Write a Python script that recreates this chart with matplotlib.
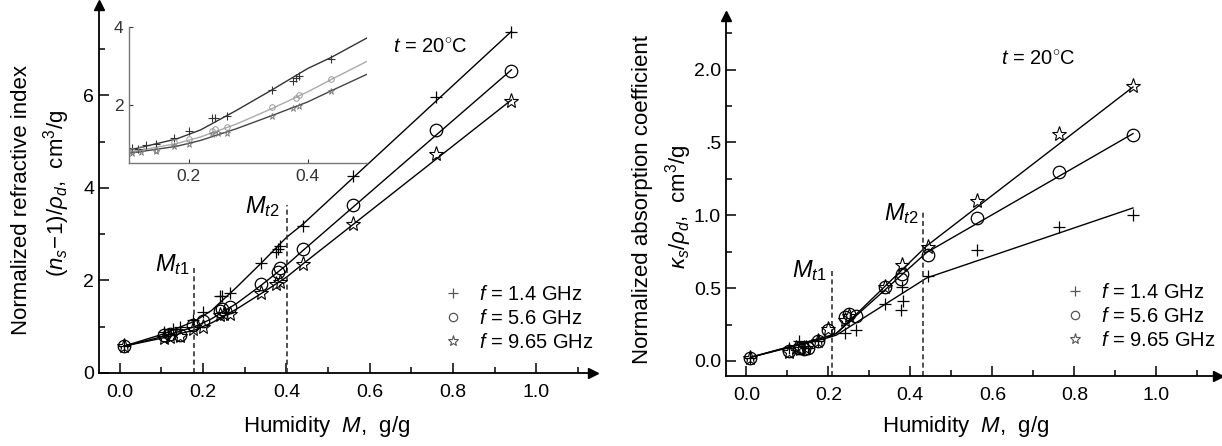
import matplotlib
matplotlib.use('Agg')
import matplotlib.pyplot as plt
from matplotlib.lines import Line2D
from matplotlib.ticker import FixedLocator

plt.rcParams['font.family'] = ['Liberation Sans', 'DejaVu Sans']
plt.rcParams['mathtext.fontset'] = 'custom'
plt.rcParams['mathtext.rm'] = 'Liberation Sans'
plt.rcParams['mathtext.it'] = 'Liberation Sans:italic'

# ---- left panel: normalized refractive index ----
M_n_plus = [0.01, 0.105, 0.115, 0.128, 0.145, 0.175, 0.20, 0.24, 0.245, 0.265, 0.34, 0.375, 0.38, 0.385, 0.44, 0.56, 0.76, 0.94]
n_plus = [0.58, 0.89, 0.85, 0.96, 1.00, 1.15, 1.32, 1.66, 1.66, 1.72, 2.37, 2.62, 2.68, 2.75, 3.18, 4.25, 5.97, 7.36]
M_n_circ = [0.01, 0.105, 0.12, 0.145, 0.175, 0.20, 0.24, 0.245, 0.265, 0.34, 0.38, 0.385, 0.44, 0.56, 0.76, 0.94]
n_circ = [0.58, 0.82, 0.85, 0.83, 1.03, 1.12, 1.33, 1.38, 1.42, 1.93, 2.18, 2.26, 2.67, 3.63, 5.25, 6.53]
M_n_star = [0.01, 0.105, 0.12, 0.145, 0.175, 0.20, 0.24, 0.25, 0.265, 0.34, 0.375, 0.385, 0.44, 0.56, 0.76, 0.94]
n_star = [0.58, 0.76, 0.78, 0.80, 0.95, 1.00, 1.25, 1.28, 1.28, 1.72, 1.92, 1.96, 2.36, 3.22, 4.74, 5.87]

# fitted curves (nodes)
fit_M_n = [0.01, 0.10, 0.18, 0.22, 0.28, 0.34, 0.40, 0.44, 0.94]
fit_n_plus = [0.58, 0.83, 1.12, 1.35, 1.85, 2.38, 2.93, 3.22, 7.38]
fit_n_circ = [0.58, 0.78, 1.00, 1.17, 1.50, 1.90, 2.33, 2.65, 6.55]
fit_n_star = [0.58, 0.75, 0.93, 1.08, 1.38, 1.72, 2.07, 2.36, 5.90]

# ---- right panel: normalized absorption coefficient ----
M_k_plus = [0.01, 0.105, 0.128, 0.14, 0.15, 0.175, 0.24, 0.267, 0.337, 0.376, 0.38, 0.382, 0.443, 0.562, 0.762, 0.943]
k_plus = [0.02, 0.09, 0.14, 0.10, 0.09, 0.14, 0.19, 0.21, 0.39, 0.35, 0.51, 0.41, 0.58, 0.76, 0.92, 1.00]
M_k_circ = [0.01, 0.105, 0.128, 0.14, 0.15, 0.175, 0.20, 0.24, 0.25, 0.267, 0.337, 0.376, 0.38, 0.443, 0.562, 0.762, 0.943]
k_circ = [0.02, 0.07, 0.09, 0.08, 0.09, 0.14, 0.21, 0.30, 0.32, 0.31, 0.51, 0.56, 0.60, 0.73, 0.98, 1.30, 1.55]
M_k_star = [0.01, 0.105, 0.12, 0.13, 0.145, 0.175, 0.20, 0.24, 0.25, 0.337, 0.38, 0.443, 0.562, 0.762, 0.943]
k_star = [0.02, 0.06, 0.09, 0.08, 0.09, 0.14, 0.22, 0.28, 0.31, 0.51, 0.66, 0.785, 1.10, 1.56, 1.89]

fit_M_k = [0.01, 0.20, 0.22, 0.44, 0.943]
fit_k_plus = [0.025, 0.16, 0.178, 0.57, 1.05]
fit_k_circ = [0.025, 0.17, 0.19, 0.745, 1.56]
fit_k_star = [0.025, 0.17, 0.19, 0.79, 1.88]

labels = [r'$\mathit{f}$ = 1.4 GHz', r'$\mathit{f}$ = 5.6 GHz', r'$\mathit{f}$ = 9.65 GHz']
FS = 14
LFS = 16


def draw_series(ax, M, y, marker, ms, color='k', mew=0.9):
    ax.plot(M, y, linestyle='none', marker=marker, ms=ms, mfc='none',
            mec=color, mew=mew, clip_on=False, zorder=3)


def style_axes(ax):
    for s in ['top', 'right']:
        ax.spines[s].set_visible(False)
    for s in ['left', 'bottom']:
        ax.spines[s].set_linewidth(1.3)
    ax.tick_params(which='both', direction='in', labelsize=FS, width=1.1)
    ax.tick_params(which='major', length=7)
    ax.tick_params(which='minor', length=4)
    ax.plot(1, 0, '>', color='k', ms=7, transform=ax.transAxes, clip_on=False)
    ax.plot(0, 1, '^', color='k', ms=7, transform=ax.transAxes, clip_on=False)


fig = plt.figure(figsize=(12.22, 4.46), dpi=100)

# left axes
ax1 = fig.add_axes([0.081, 0.1637, 0.404, 0.825])
ax1.set_xlim(-0.05, 1.135)
ax1.set_ylim(0, 7.95)
style_axes(ax1)
ax1.xaxis.set_major_locator(FixedLocator([0.0, 0.2, 0.4, 0.6, 0.8, 1.0]))
ax1.xaxis.set_minor_locator(FixedLocator([0.1, 0.3, 0.5, 0.7, 0.9, 1.1]))
ax1.set_xticklabels(['0.0', '0.2', '0.4', '0.6', '0.8', '1.0'])
ax1.yaxis.set_major_locator(FixedLocator([0, 2, 4, 6]))
ax1.yaxis.set_minor_locator(FixedLocator([1, 3, 5, 7]))
ax1.tick_params(axis='x', pad=8)

for fy in [fit_n_plus, fit_n_circ, fit_n_star]:
    ax1.plot(fit_M_n, fy, color='k', lw=1.0)
draw_series(ax1, M_n_plus, n_plus, '+', 9)
draw_series(ax1, M_n_circ, n_circ, 'o', 9)
draw_series(ax1, M_n_star, n_star, '*', 11, mew=0.8)

ax1.plot([0.178, 0.178], [0, 2.33], color='#333333', lw=1.2, ls=(0, (3, 2)))
ax1.plot([0.402, 0.402], [0, 3.63], color='#333333', lw=1.2, ls=(0, (3, 2)))
ax1.text(0.168, 2.2, r'$\mathit{M}_{\mathit{t1}}$', fontsize=17, ha='right', va='baseline')
ax1.text(0.384, 3.45, r'$\mathit{M}_{\mathit{t2}}$', fontsize=17, ha='right', va='baseline')
ax1.text(0.655, 7.05, r'$\mathit{t}$ = 20$^{\circ}$C', fontsize=FS + 0.5, ha='left', va='center')

h = [Line2D([], [], ls='none', marker='+', ms=7, mec='#555555', mew=0.9),
     Line2D([], [], ls='none', marker='o', ms=6, mfc='none', mec='#555555', mew=0.9),
     Line2D([], [], ls='none', marker='*', ms=8, mfc='none', mec='#555555', mew=0.8)]
ax1.legend(h, labels, loc='upper left', bbox_to_anchor=(0.354, 0.383),
           bbox_transform=fig.transFigure, frameon=False, fontsize=FS + 0.5,
           handlelength=1.0, handletextpad=0.8, labelspacing=0.25, borderpad=0)

# inset
axi = fig.add_axes([0.1056, 0.6345, 0.1948, 0.305])
axi.set_xlim(0.1, 0.5)
axi.set_ylim(0.5, 4.0)
for s in ['top', 'right']:
    axi.spines[s].set_visible(False)
for s in ['left', 'bottom']:
    axi.spines[s].set_color('#777777')
    axi.spines[s].set_linewidth(1.0)
axi.patch.set_alpha(0)
axi.xaxis.set_major_locator(FixedLocator([0.2, 0.4]))
axi.yaxis.set_major_locator(FixedLocator([2, 4]))
axi.tick_params(direction='in', length=3, labelsize=12.5, colors='#333333', pad=4)
axi.set_xticklabels(['0.2', '0.4'])
axi.set_yticklabels(['2', '4'])
axi.plot(fit_M_n, fit_n_plus, color='#333333', lw=1.0)
axi.plot(fit_M_n, fit_n_circ, color='#aaaaaa', lw=1.0)
axi.plot(fit_M_n, fit_n_star, color='#444444', lw=1.0)
axi.plot(M_n_plus, n_plus, ls='none', marker='+', ms=6, mec='#333333', mew=0.8)
axi.plot(M_n_circ, n_circ, ls='none', marker='o', ms=4, mfc='none', mec='#999999', mew=0.7)
axi.plot(M_n_star, n_star, ls='none', marker='*', ms=5, mfc='none', mec='#777777', mew=0.6)

# right axes
ax2 = fig.add_axes([0.594, 0.158, 0.4026, 0.807])
ax2.set_xlim(-0.05, 1.15)
ax2.set_ylim(-0.1, 2.37)
style_axes(ax2)
ax2.xaxis.set_major_locator(FixedLocator([0.0, 0.2, 0.4, 0.6, 0.8, 1.0]))
ax2.xaxis.set_minor_locator(FixedLocator([0.1, 0.3, 0.5, 0.7, 0.9, 1.1]))
ax2.set_xticklabels(['0.0', '0.2', '0.4', '0.6', '0.8', '1.0'])
ax2.yaxis.set_major_locator(FixedLocator([0.0, 0.5, 1.0, 1.5, 2.0]))
ax2.yaxis.set_minor_locator(FixedLocator([0.25, 0.75, 1.25, 1.75, 2.25]))
ax2.set_yticklabels(['0.0', '0.5', '1.0', '.5', '2.0'])
ax2.tick_params(axis='x', pad=8)

for fy in [fit_k_plus, fit_k_circ, fit_k_star]:
    ax2.plot(fit_M_k, fy, color='k', lw=1.0)
draw_series(ax2, M_k_plus, k_plus, '+', 9)
draw_series(ax2, M_k_circ, k_circ, 'o', 9)
draw_series(ax2, M_k_star, k_star, '*', 11, mew=0.8)

ax2.plot([0.209, 0.209], [-0.1, 0.63], color='#333333', lw=1.2, ls=(0, (3, 2)))
ax2.plot([0.431, 0.431], [-0.1, 1.03], color='#333333', lw=1.2, ls=(0, (3, 2)))
ax2.text(0.196, 0.578, r'$\mathit{M}_{\mathit{t1}}$', fontsize=17, ha='right', va='baseline')
ax2.text(0.421, 0.967, r'$\mathit{M}_{\mathit{t2}}$', fontsize=17, ha='right', va='baseline')
ax2.text(0.62, 2.07, r'$\mathit{t}$ = 20$^{\circ}$C', fontsize=FS + 0.5, ha='left', va='center')

ax2.legend(h, labels, loc='upper left', bbox_to_anchor=(0.863, 0.389),
           bbox_transform=fig.transFigure, frameon=False, fontsize=FS + 0.5,
           handlelength=1.0, handletextpad=0.8, labelspacing=0.25, borderpad=0)

# axis titles
fig.text(0.267, 0.043, r'Humidity  $\mathit{M}$,  g/g', fontsize=LFS, ha='center', va='center')
fig.text(0.79, 0.043, r'Humidity  $\mathit{M}$,  g/g', fontsize=LFS, ha='center', va='center')
fig.text(0.018, 0.552, 'Normalized refractive index', fontsize=LFS, rotation=90, ha='center', va='center')
fig.text(0.046, 0.567, r'$(\mathit{n}_s\!-\!1)/\rho_{\mathit{d}}$,  cm$^3$/g', fontsize=LFS, rotation=90, ha='center', va='center')
fig.text(0.526, 0.552, 'Normalized absorption coefficient', fontsize=LFS, rotation=90, ha='center', va='center')
fig.text(0.555, 0.536, r'$\kappa_s/\rho_{\mathit{d}}$,  cm$^3$/g', fontsize=LFS, rotation=90, ha='center', va='center')

fig.savefig('out.png', dpi=100)
